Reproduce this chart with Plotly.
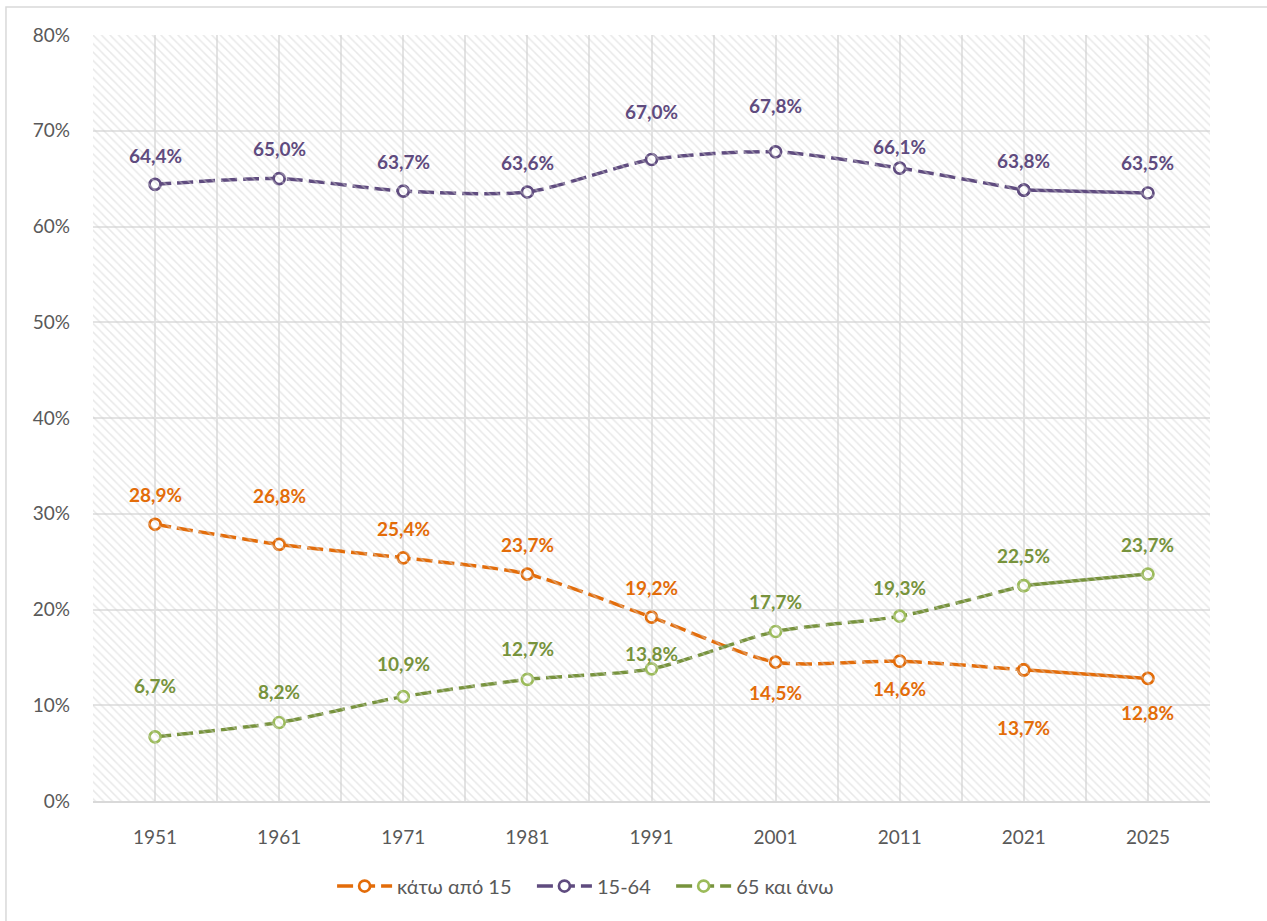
import plotly.graph_objects as go

years = ["1951", "1961", "1971", "1981", "1991", "2001", "2011", "2021", "2025"]
under15 = [28.9, 26.8, 25.4, 23.7, 19.2, 14.5, 14.6, 13.7, 12.8]
age15_64 = [64.4, 65.0, 63.7, 63.6, 67.0, 67.8, 66.1, 63.8, 63.5]
age65plus = [6.7, 8.2, 10.9, 12.7, 13.8, 17.7, 19.3, 22.5, 23.7]
names = ["κάτω από 15", "15-64", "65 και άνω"]
y_ticks = [0, 10, 20, 30, 40, 50, 60, 70, 80]

# label vertical offsets in px (style)
offs_under15 = [30, 49, 29, 30, 30, -30, -27, -58, -34]
offs_15_64 = [29, 30, 30, 30, 48, 46, 22, 30, 30]
offs_65 = [51, 31, 33, 31, 15, 30, 29, 30, 30]

line_colors = ["#E36C09", "#5F4B7F", "#77933C"]
marker_colors = ["#E36C09", "#5F4B7F", "#9BBB59"]
label_colors = ["#E36C09", "#5F4B7F", "#77933C"]

x = list(range(len(years)))
series = [under15, age15_64, age65plus]
offsets = [offs_under15, offs_15_64, offs_65]

fig = go.Figure()

# hatched background on an auxiliary axis
fig.add_trace(go.Scatter(
    x=[0, 1, 1, 0, 0], y=[0, 0, 1, 1, 0], xaxis="x2", yaxis="y2",
    mode="lines", line=dict(width=0), fill="toself",
    fillcolor="rgba(0,0,0,0)",
    fillpattern=dict(shape="\\", fgcolor="#D2D2D2", bgcolor="rgba(0,0,0,0)",
                     size=6, solidity=0.25),
    hoverinfo="skip", showlegend=False))

pad = "\u00a0" * 3
split = len(years) - 2
for i, (name, vals, lc, mc) in enumerate(zip(names, series, line_colors, marker_colors)):
    common = dict(mode="lines+markers",
                  marker=dict(symbol="circle", size=11, color="white",
                              line=dict(color=mc, width=2.7)),
                  legendgroup=name)
    fig.add_trace(go.Scatter(
        x=x[:split + 1], y=vals[:split + 1],
        name=name + (pad if i < len(names) - 1 else ""),
        line=dict(color=lc, width=3.5, dash="16px,6px", shape="spline", smoothing=0.7),
        **common))
    fig.add_trace(go.Scatter(
        x=x[split:], y=vals[split:], name=name, showlegend=False,
        line=dict(color=lc, width=3.5),
        **common))

annotations = []
for vals, offs, col in zip(series, offsets, label_colors):
    for xi, v, o in zip(x, vals, offs):
        annotations.append(dict(
            x=xi, y=v, xref="x", yref="y", yshift=o, showarrow=False,
            text=f"{v:.1f}".replace(".", ",") + "%",
            font=dict(family="Lato", size=19, color=col, weight="bold")))

fig.update_layout(
    width=1267, height=921,
    margin=dict(l=93, r=57, t=35, b=120),
    paper_bgcolor="white", plot_bgcolor="white",
    font=dict(family="Lato", color="#595959"),
    annotations=annotations,
    xaxis=dict(range=[-0.5, len(years) - 0.5], tickmode="array", tickvals=x,
               ticktext=years, showgrid=True, gridcolor="#E3E3E3", gridwidth=2,
               minor=dict(tickmode="linear", tick0=-0.5, dtick=1, showgrid=True,
                          gridcolor="#E3E3E3", gridwidth=2, ticklen=0),
               ticks="", showline=True, linecolor="#D9D9D9", linewidth=2,
               zeroline=False, tickfont=dict(size=19, color="#595959"),
               ticklabelstandoff=18),
    yaxis=dict(range=[0, 80], tickmode="array", tickvals=y_ticks,
               ticktext=[f"{t}%" for t in y_ticks],
               showgrid=True, gridcolor="#E3E3E3", gridwidth=2,
               zeroline=False, showline=False, ticks="",
               tickfont=dict(size=19, color="#595959"), ticklabelstandoff=22),
    xaxis2=dict(range=[0, 1], overlaying="x", visible=False, fixedrange=True),
    yaxis2=dict(range=[0, 1], overlaying="y", visible=False, fixedrange=True),
    legend=dict(orientation="h", x=0.441, xanchor="center", y=-0.111, yanchor="middle",
                font=dict(size=20, color="#595959"), itemwidth=55,
                bgcolor="rgba(0,0,0,0)"),
    shapes=[dict(type="rect", xref="paper", yref="paper",
                 x0=-0.0779, x1=1.06, y0=-0.16, y1=1.0366,
                 line=dict(color="#D9D9D9", width=1.5), fillcolor="rgba(0,0,0,0)",
                 layer="below")],
    showlegend=True,
)

fig.write_html("out.html", config={"displayModeBar": False},
               post_script="document.body.style.margin='0';document.body.style.overflow='hidden';")
